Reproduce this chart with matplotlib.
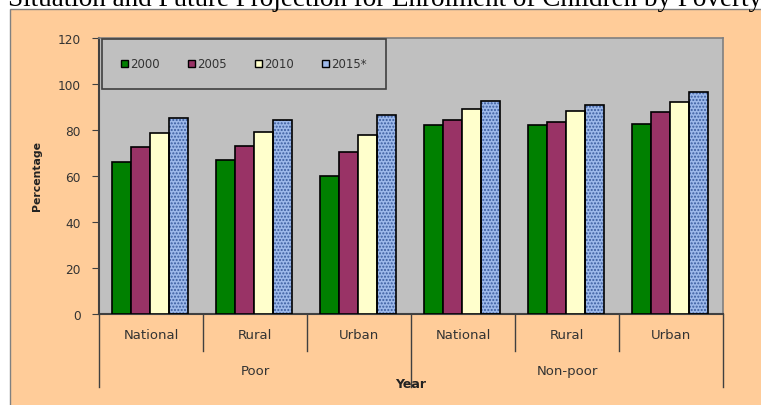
import numpy as np
import matplotlib.pyplot as plt
from matplotlib.patches import Rectangle, Patch

areas = ["National", "Rural", "Urban", "National", "Rural", "Urban"]
groups = ["Poor", "Non-poor"]
years = ["2000", "2005", "2010", "2015*"]
v2000 = [66.2, 66.8, 60.1, 82.3, 82.3, 82.8]
v2005 = [72.6, 72.9, 70.6, 84.5, 83.6, 87.8]
v2010 = [78.8, 79.0, 77.8, 89.1, 88.1, 92.2]
v2015 = [85.1, 84.5, 86.7, 92.5, 91.0, 96.7]
colors = ["#008000", "#993366", "#FFFFCC", "#9DB9EA"]


def main():
    series = [v2000, v2005, v2010, v2015]
    W, H = 761, 406
    fig = plt.figure(figsize=(W / 100, H / 100), dpi=100)
    fig.patches.append(Rectangle((10 / W, -0.02), 1, 396 / H + 0.02, transform=fig.transFigure,
                                 facecolor="#FFCC99", edgecolor="#808080", lw=1, zorder=-5))
    fig.text(8 / W, 1 - 6 / H,
             "Situation and Future Projection for Enrolment of Children by Poverty Status",
             family="Liberation Serif", fontsize=19.5, va="baseline", ha="left")

    ax = fig.add_axes([99 / W, 91 / H, 624 / W, 276 / H])
    ax.set_facecolor("#C0C0C0")
    x = np.arange(len(areas))
    w = 0.183
    for i, (vals, c) in enumerate(zip(series, colors)):
        pos = x + (i - 1.5) * w - 0.01
        if i == 3:
            ax.bar(pos, vals, w, color=c, edgecolor="#3A5C9E", hatch=".....", lw=0, zorder=2)
            ax.bar(pos, vals, w, fill=False, edgecolor="black", lw=1.2, zorder=3)
        else:
            ax.bar(pos, vals, w, color=c, edgecolor="black", lw=1.2, zorder=3)

    ax.set_xlim(-0.5, 5.5)
    ax.set_ylim(0, 120)
    ax.set_yticks(range(0, 121, 20))
    ax.set_xticks([])
    ax.tick_params(axis="y", direction="out", length=5, color="#404040",
                   labelsize=8.7, labelcolor="#333333", pad=8)
    for s in ["top", "right"]:
        ax.spines[s].set_color("#808080")
        ax.spines[s].set_linewidth(1.2)
    for s in ["left", "bottom"]:
        ax.spines[s].set_color("#404040")
        ax.spines[s].set_linewidth(1.5)

    trans = ax.get_xaxis_transform()
    for b in np.arange(-0.5, 6, 1):
        y_end = -0.2645 if b in (-0.5, 2.5, 5.5) else -0.134
        ax.plot([b, b], [0, y_end], transform=trans, color="#404040", lw=1, clip_on=False)
    for i, name in enumerate(areas):
        ax.text(i, -0.076, name, transform=trans, ha="center", va="center",
                fontsize=9.5, color="#333333")
    for j, g in enumerate(groups):
        ax.text(1 + 3 * j, -0.2065, g, transform=trans, ha="center", va="center",
                fontsize=9.5, color="#333333")
    ax.text(2.5, -0.2536, "Year", transform=trans, ha="center", va="center",
            fontsize=9, fontweight="bold", color="#222222")
    fig.text(36.7 / W, 1 - 176 / H, "Percentage", rotation=90, ha="center", va="center",
             fontsize=7.8, fontweight="bold", color="#222222")

    handles = [Patch(facecolor=c, edgecolor="black", lw=1) for c in colors]
    leg = ax.legend(handles, years, loc="center", bbox_to_anchor=(0.005, 0.812, 0.455, 0.188),
                    mode="expand", ncol=4, fontsize=8.5, handlelength=0.6, handleheight=0.6,
                    handletextpad=0.2, borderpad=1.6, fancybox=False, framealpha=1,
                    borderaxespad=0)
    leg.get_frame().set_edgecolor("#404040")
    leg.get_frame().set_facecolor("#C0C0C0")
    leg.get_frame().set_linewidth(1.2)
    for t in leg.get_texts():
        t.set_color("#333333")

    fig.savefig("out.png", dpi=100)


if __name__ == "__main__":
    main()
